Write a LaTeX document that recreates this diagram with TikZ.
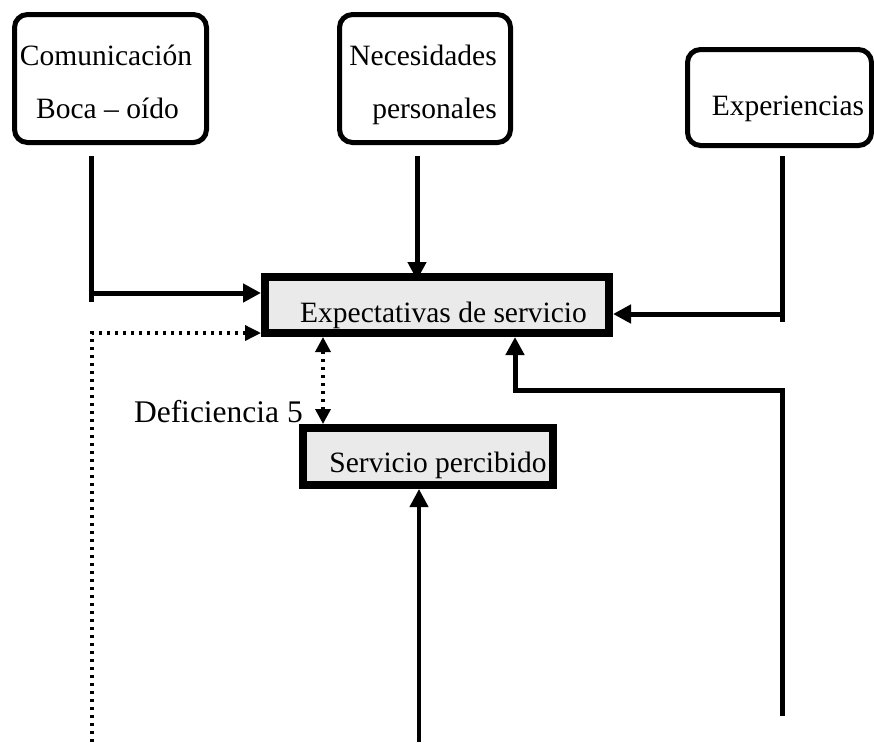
\documentclass[tikz,border=0pt]{standalone}
\usepackage{fontspec}
\setmainfont{Liberation Serif}
\usetikzlibrary{arrows.meta}
\definecolor{boxfill}{RGB}{234,234,234}
\begin{document}
\begin{tikzpicture}[x=1pt,y=-1pt,
  roundbox/.style={draw, line width=5pt, rounded corners=13pt, inner sep=0pt},
  thickbox/.style={draw, line width=8pt, fill=boxfill, inner sep=0pt},
  txt/.style={inner sep=0pt, font=\fontsize{29.5}{35}\selectfont},
  conn/.style={line width=5pt, -{Triangle[length=18pt,width=18pt]}},
  plain/.style={line width=5pt},
  dotline/.style={line width=3.5pt, dash pattern=on 3pt off 5pt},
]
\useasboundingbox (0,0) rectangle (874,742);

% input boxes
\node[roundbox, minimum width=192pt, minimum height=128pt] (boca) at (110.5,78.5) {};
\node[txt, anchor=base] (bocaA) at (106,65) {Comunicación};
\node[txt, anchor=base] (bocaB) at (107.5,118) {Boca – oído};

\node[roundbox, minimum width=171pt, minimum height=128pt] (nec) at (425,78.5) {};
\node[txt, anchor=base east] (necA) at (497,65) {Necesidades};
\node[txt, anchor=base east] (necB) at (497,118) {personales};

\node[roundbox, minimum width=184pt, minimum height=96pt] (exper) at (779.5,97.5) {};
\node[txt, anchor=base] (experA) at (788,115) {Experiencias};

% central boxes
\node[thickbox, minimum width=344pt, minimum height=56pt] (exp) at (437,305) {};
\node[txt, anchor=base] (expT) at (443.5,322) {Expectativas de servicio};

\node[thickbox, minimum width=250pt, minimum height=57pt] (serv) at (428,456.5) {};
\node[txt, anchor=base] (servT) at (438,472) {Servicio percibido};

\node[txt, anchor=base east, font=\fontsize{31.5}{36}\selectfont] (gap) at (303,422) {Deficiencia 5};

% connector points
\coordinate (bocaTop) at (91,156);
\coordinate (bocaEnd) at (91,302);
\coordinate (bocaTurn) at (91,293);
\coordinate (necTop) at (417,156);
\coordinate (experTop) at (782,156);
\coordinate (experEnd) at (782,322);
\coordinate (experTurn) at (782,314);
\coordinate (loopBot) at (782,716);
\coordinate (loopTurn) at (515,390);
\coordinate (servBot) at (419,742);
\coordinate (dotBot) at (92,742);
\coordinate (dotTurn) at (92,333);
\coordinate (gapX) at (323,0);

% solid connectors
\draw[plain] (bocaTop) -- (bocaEnd);
\draw[conn] (bocaTurn) -- (exp.west |- bocaTurn);
\draw[conn, shorten >=-7pt] (necTop) -- (exp.north -| necTop);
\draw[plain] (experTop) -- (experEnd);
\draw[conn] (experTurn) -- (exp.east |- experTurn);
\draw[conn, line join=miter] (loopBot) |- (loopTurn) -- (exp.south -| loopTurn);
\draw[conn, line width=4pt] (servBot) -- (serv.south -| servBot);

% dotted connectors
\draw[dotline, -{Triangle[length=16pt,width=15pt]}] (dotBot) -- (dotTurn) -- (exp.west |- dotTurn);
\draw[dotline, {Triangle[length=15pt,width=15pt]}-{Triangle[length=15pt,width=15pt]}]
  (exp.south -| gapX) -- (serv.north -| gapX);
\end{tikzpicture}
\end{document}
